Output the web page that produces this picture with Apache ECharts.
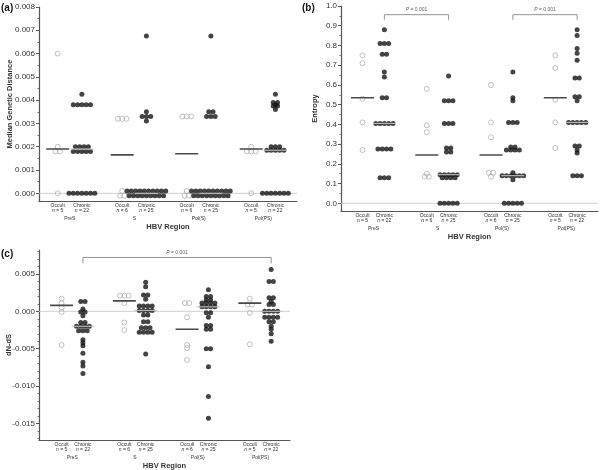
<!DOCTYPE html>
<html><head><meta charset="utf-8">
<script src="https://cdn.jsdelivr.net/npm/echarts@6/dist/echarts.min.js"></script>
<style>html,body{margin:0;padding:0;background:#fff}#c{width:600px;height:470px}</style>
</head><body><div id="c"></div><script>
// ---------- DATA ----------
const regions = ['PreS', 'S', 'Pol(S)', 'Pol(PS)'];
const occultN = [5, 6, 6, 5];
const chronicN = [22, 25, 25, 22];

// (a) Median genetic distance
const aOccult = [
  [0.006, 0.002, 0.0018, 0.0018, 0.0],
  [0.0032, 0.0032, 0.0032, 0.0001, -0.0001, -0.0001],
  [0.0033, 0.0033, 0.0033, 0.0001, -0.0001, -0.0001],
  [0.002, 0.0018, 0.0018, 0.0018, 0.0]
];
const aChronic = [
  [0.00425, 0.0038, 0.0038, 0.0038, 0.0038, 0.0038, 0.002, 0.002, 0.002, 0.002,
   0.0018, 0.0018, 0.0018, 0.0018, 0.0018, 0, 0, 0, 0, 0, 0, 0],
  [0.00675, 0.0035, 0.0033, 0.0033, 0.0033, 0.0031,
   0.0001, 0.0001, 0.0001, 0.0001, 0.0001, 0.0001, 0.0001, 0.0001, 0.0001, 0.0001,
   -0.0001, -0.0001, -0.0001, -0.0001, -0.0001, -0.0001, -0.0001, -0.0001, -0.0001],
  [0.00675, 0.0035, 0.0035, 0.0033, 0.0033, 0.0033,
   0.0001, 0.0001, 0.0001, 0.0001, 0.0001, 0.0001, 0.0001, 0.0001, 0.0001, 0.0001,
   -0.0001, -0.0001, -0.0001, -0.0001, -0.0001, -0.0001, -0.0001, -0.0001, -0.0001],
  [0.00425, 0.0039, 0.0039, 0.0038, 0.00375, 0.00375, 0.0036, 0.002, 0.002, 0.002,
   0.00185, 0.00185, 0.00185, 0.00185, 0.00185, 0, 0, 0, 0, 0, 0, 0]
];
const aOccultMedian = [0.0019, 0.00165, 0.0017, 0.0019];
const aChronicMedian = [0.0019, 0, 0, 0.00185];
const aTicks = [0, 0.001, 0.002, 0.003, 0.004, 0.005, 0.006, 0.007, 0.008];

// (b) Entropy
const bOccult = [
  [0.75, 0.71, 0.53, 0.41, 0.27],
  [0.58, 0.395, 0.36, 0.15, 0.135, 0.135],
  [0.60, 0.41, 0.335, 0.155, 0.155, 0.135],
  [0.75, 0.685, 0.525, 0.41, 0.28]
];
const bChronic = [
  [0.88, 0.81, 0.81, 0.81, 0.755, 0.755, 0.665, 0.64, 0.535, 0.535,
   0.405, 0.405, 0.405, 0.405, 0.405, 0.275, 0.275, 0.275, 0.275, 0.13, 0.13, 0.13],
  [0.645, 0.52, 0.52, 0.52, 0.405, 0.405, 0.405, 0.28, 0.28, 0.26, 0.26,
   0.145, 0.145, 0.145, 0.145, 0.145, 0.13, 0.13, 0.13, 0.13, 0, 0, 0, 0, 0],
  [0.665, 0.535, 0.52, 0.41, 0.41, 0.41, 0.285, 0.285, 0.27, 0.27, 0.27, 0.27,
   0.155, 0.14, 0.14, 0.14, 0.14, 0.14, 0.14, 0.12, 0, 0, 0, 0, 0],
  [0.88, 0.85, 0.785, 0.76, 0.725, 0.635, 0.635, 0.54, 0.54, 0.52,
   0.41, 0.41, 0.41, 0.41, 0.41, 0.29, 0.29, 0.27, 0.255, 0.14, 0.14, 0.14]
];
const bOccultMedian = [0.535, 0.245, 0.245, 0.535];
const bChronicMedian = [0.405, 0.145, 0.14, 0.41];
const bTicks = [0, 0.1, 0.2, 0.3, 0.4, 0.5, 0.6, 0.7, 0.8, 0.9, 1.0];

// (c) dN-dS
const cOccult = [
  [0.0017, 0.0011, 0.0005, -0.0001, -0.0045],
  [0.0021, 0.0021, 0.0021, 0.0011, -0.0015, -0.0025],
  [0.0011, 0.0011, -0.0008, -0.0045, -0.0049, -0.0065],
  [0.0017, 0.0009, 0.0009, -0.0002, -0.0044]
];
const cChronic = [
  [0.0013, 0.0013, 0.0003, -0.0001, -0.0001, -0.0006, -0.0015, -0.0015,
   -0.002, -0.002, -0.002, -0.002, -0.0026, -0.0026, -0.0026,
   -0.0038, -0.0042, -0.0046, -0.0056, -0.0068, -0.0073, -0.0083],
  [0.0039, 0.0033, 0.0022, 0.0022, 0.0016, 0.0007, 0.0007, 0.0007, 0.0007,
   0.0001, 0.0001, 0.0001, 0.0001, -0.0005, -0.0005, -0.0014, -0.0014,
   -0.0022, -0.0022, -0.0022, -0.0028, -0.0028, -0.0028, -0.0028, -0.0057],
  [0.0029, 0.002, 0.002, 0.0015, 0.0015, 0.0011, 0.0011, 0.0011, 0.0011,
   0.0006, 0.0006, 0.0006, 0.0006, -0.0002, -0.0002, -0.0008, -0.0019, -0.0019,
   -0.0024, -0.0024, -0.005, -0.005, -0.0074, -0.0114, -0.0143],
  [0.0056, 0.004, 0.004, 0.0018, 0.0018, 0.0013, 0.0009, 0.0009,
   0, 0, 0, 0, -0.0008, -0.0008, -0.0008, -0.0008, -0.0014, -0.0014,
   -0.002, -0.0024, -0.003, -0.004]
];
const cOccultMedian = [0.0008, 0.0014, -0.0024, 0.0011];
const cChronicMedian = [-0.002, 0.0001, 0.0006, 0];
const cTicks = [-0.015, -0.01, -0.005, 0, 0.005];

const pText = 'P = 0.001';
const bBrackets = [[0, 1], [2, 3]];   // chronic group pairs
const cBrackets = [[0, 3]];

// ---------- LAYOUT ----------
const FONT = 'Liberation Sans, Arial, Helvetica, sans-serif';
const panels = [
  {letter: '(a)', lx: 1, ly: 3, grid: {left: 39, top: 7, width: 258, height: 194},
   min: -0.00033, max: 0.008, ticks: aTicks, minorStep: 0.0005, dec: 3,
   yName: 'Median Genetic Distance', nameGap: 25, off: [0.58, 1.33], xMax: 8,
   occ: aOccult, chr: aChronic, occMed: aOccultMedian, chrMed: aChronicMedian,
   brackets: [], br: null},
  {letter: '(b)', lx: 302, ly: 3, grid: {left: 341, top: 6, width: 257, height: 205},
   min: -0.039, max: 1.0, ticks: bTicks, minorStep: 0.05, dec: 1,
   yName: 'Entropy', nameGap: 22, off: [0.67, 1.35], xMax: 8,
   occ: bOccult, chr: bChronic, occMed: bOccultMedian, chrMed: bChronicMedian,
   brackets: bBrackets, br: {top: 0.956, leg: 0.93, text: 0.982}},
  {letter: '(c)', lx: 1, ly: 249, grid: {left: 39, top: 250, width: 251, height: 190},
   min: -0.0172, max: 0.0082, ticks: cTicks, minorStep: 0.001, dec: 3,
   yName: 'dN-dS', nameGap: 26, off: [0.72, 1.4], xMax: 8,
   occ: cOccult, chr: cChronic, occMed: cOccultMedian, chrMed: cChronicMedian,
   brackets: cBrackets, br: {top: 0.0072, leg: 0.0064, text: 0.0079}}
];

function swarm(values, center, step) {
  const counts = new Map();
  values.forEach(v => counts.set(v, (counts.get(v) || 0) + 1));
  const seen = new Map();
  return values.map(v => {
    const k = counts.get(v), j = seen.get(v) || 0;
    seen.set(v, j + 1);
    return [center + (j - (k - 1) / 2) * step, v];
  });
}

const grids = [], xAxes = [], yAxes = [], series = [], graphics = [];
panels.forEach((p, pi) => {
  grids.push(Object.assign({outerBoundsMode: 'none', containLabel: false}, p.grid));
  const unit = p.grid.width / p.xMax;
  const step = 4.3 / unit;
  const half = 11.5 / unit;
  const occX = regions.map((r, g) => 2 * g + p.off[0]);
  const chrX = regions.map((r, g) => 2 * g + p.off[1]);
  const midX = regions.map((r, g) => 2 * g + (p.off[0] + p.off[1]) / 2);
  const labelPos = [], labelTxt = [];
  regions.forEach((r, g) => {
    labelPos.push(occX[g]); labelTxt.push('Occult\n{i|n} = ' + occultN[g]);
    labelPos.push(chrX[g]); labelTxt.push('Chronic\n{i|n} = ' + chronicN[g]);
  });
  const findIdx = (arr, v) => arr.findIndex(a => Math.abs(a - v) < 1e-6);
  xAxes.push({
    gridIndex: pi, type: 'value', min: 0, max: p.xMax,
    axisLine: {show: true, onZero: false, lineStyle: {color: '#555', width: 1.2}},
    axisTick: {show: false}, splitLine: {show: false},
    axisLabel: {customValues: labelPos, margin: 2.5, fontSize: 5, lineHeight: 4.8,
      color: '#333', fontFamily: FONT,
      formatter: v => { const i = findIdx(labelPos, v); return i < 0 ? '' : labelTxt[i]; },
      rich: {i: {fontStyle: 'italic', fontSize: 5, fontFamily: FONT, color: '#333'}}}
  });
  xAxes.push({
    gridIndex: pi, type: 'value', min: 0, max: p.xMax, position: 'bottom',
    axisLine: {show: false}, axisTick: {show: false}, splitLine: {show: false},
    axisLabel: {customValues: midX, margin: 15.5, fontSize: 5, color: '#333', fontFamily: FONT,
      formatter: v => { const i = findIdx(midX, v); return i < 0 ? '' : regions[i]; }},
    name: 'HBV Region', nameLocation: 'middle', nameGap: 22, nameMoveOverlap: false,
    nameTextStyle: {fontSize: 7.5, fontWeight: 'bold', color: '#333', fontFamily: FONT}
  });
  const minor = [];
  for (let v = Math.ceil(p.min / p.minorStep) * p.minorStep; v <= p.max + 1e-9; v += p.minorStep) {
    const r = Math.round(v / p.minorStep) * p.minorStep;
    if (!p.ticks.some(t => Math.abs(t - r) < p.minorStep / 10)) minor.push(r);
  }
  yAxes.push({
    gridIndex: pi, type: 'value', min: p.min, max: p.max, position: 'left',
    axisLine: {show: true, lineStyle: {color: '#555', width: 1.2}},
    axisTick: {show: true, customValues: p.ticks, length: 3, lineStyle: {color: '#555'}},
    splitLine: {show: false},
    axisLabel: {customValues: p.ticks, margin: 4, fontSize: 8, color: '#333', fontFamily: FONT,
      formatter: v => (Math.abs(v) < 1e-12 ? 0 : v).toFixed(p.dec)},
    name: p.yName, nameLocation: 'middle', nameGap: p.nameGap, nameMoveOverlap: false,
    nameTextStyle: {fontSize: 7.5, fontWeight: 'bold', color: '#333', fontFamily: FONT}
  });
  yAxes.push({
    gridIndex: pi, type: 'value', min: p.min, max: p.max, position: 'left',
    axisLine: {show: false}, splitLine: {show: false}, axisLabel: {show: false},
    axisTick: {show: true, customValues: minor, length: 1.5, lineStyle: {color: '#777'}}
  });
  const xi = 2 * pi, yi = 2 * pi;
  // zero line
  series.push({type: 'line', xAxisIndex: xi, yAxisIndex: yi, data: [[0, 0], [p.xMax, 0]],
    symbol: 'none', silent: true, z: 1, lineStyle: {color: '#cfcfcf', width: 1}});
  regions.forEach((r, g) => {
    series.push({type: 'scatter', xAxisIndex: xi, yAxisIndex: yi, z: 2, symbol: 'circle', symbolSize: 5,
      data: swarm(p.occ[g], occX[g], step),
      itemStyle: {color: 'rgba(255,255,255,0)', borderColor: '#a8a8a8', borderWidth: 0.9}});
    series.push({type: 'scatter', xAxisIndex: xi, yAxisIndex: yi, z: 2, symbol: 'circle', symbolSize: 5,
      data: swarm(p.chr[g], chrX[g], step),
      itemStyle: {color: '#151515', borderWidth: 0}});
    // medians
    series.push({type: 'line', xAxisIndex: xi, yAxisIndex: yi, z: 3, symbol: 'none', silent: true,
      data: [[occX[g] - half, p.occMed[g]], [occX[g] + half, p.occMed[g]]],
      lineStyle: {color: '#4a4a4a', width: 1.6}});
    series.push({type: 'line', xAxisIndex: xi, yAxisIndex: yi, z: 3, symbol: 'none', silent: true,
      data: [[chrX[g] - half, p.chrMed[g]], [chrX[g] + half, p.chrMed[g]]],
      lineStyle: {color: '#c4c4c4', width: 1}});
  });
  p.brackets.forEach(([g1, g2]) => {
    const x1 = chrX[g1], x2 = chrX[g2];
    series.push({type: 'line', xAxisIndex: xi, yAxisIndex: yi, z: 3, symbol: 'none', silent: true,
      data: [[x1, p.br.leg], [x1, p.br.top], [x2, p.br.top], [x2, p.br.leg]],
      lineStyle: {color: '#777', width: 0.8}});
    series.push({type: 'scatter', xAxisIndex: xi, yAxisIndex: yi, z: 3, symbolSize: 1, silent: true,
      itemStyle: {color: 'rgba(0,0,0,0)'},
      data: [[(x1 + x2) / 2, p.br.text]],
      label: {show: true, position: 'inside', formatter: '{i|P} = 0.001'.replace('0.001', pText.split('= ')[1]),
        fontSize: 5, color: '#333', fontFamily: FONT,
        rich: {i: {fontStyle: 'italic', fontSize: 5, color: '#333', fontFamily: FONT}}}});
  });
  graphics.push({type: 'text', left: p.lx, top: p.ly,
    style: {text: p.letter, font: 'bold 10px ' + FONT, fill: '#111'}});
});

const chart = echarts.init(document.getElementById('c'), null, {renderer: 'canvas'});
chart.setOption({
  animation: false,
  backgroundColor: '#fff',
  textStyle: {fontFamily: FONT},
  grid: grids, xAxis: xAxes, yAxis: yAxes, series: series, graphic: graphics
});
</script></body></html>
